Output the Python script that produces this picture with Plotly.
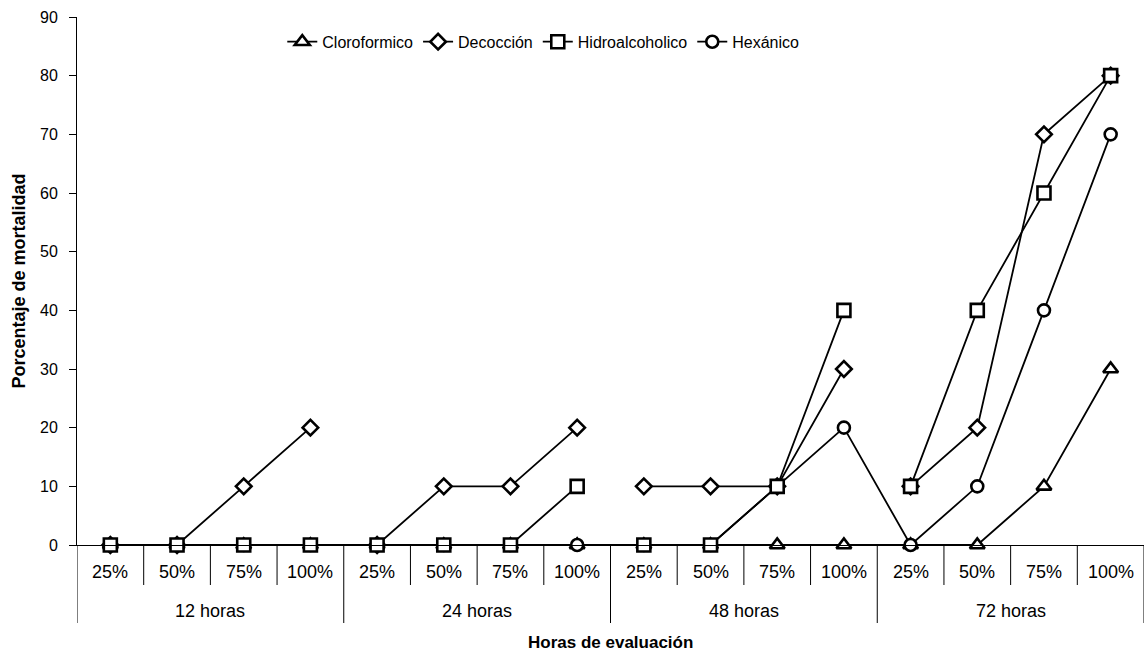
import plotly.graph_objects as go

# Categories
groups = ["12 horas", "24 horas", "48 horas", "72 horas"]
doses = ["25%", "50%", "75%", "100%"]

# Mortality (%) per extract, ordered group by group, dose by dose
cloroformico = [0, 0, 0, 0, 0, 0, 0, 0, 0, 0, 0, 0, 0, 0, 10, 30]
decoccion = [0, 0, 10, 20, 0, 10, 10, 20, 10, 10, 10, 30, 10, 20, 70, 80]
hidroalcoholico = [0, 0, 0, 0, 0, 0, 0, 10, 0, 0, 10, 40, 10, 40, 60, 80]
hexanico = [0, 0, 0, 0, 0, 0, 0, 0, 0, 0, 10, 20, 0, 10, 40, 70]

FONT = "Liberation Sans, Arial, sans-serif"
n_d = len(doses)
n = len(groups) * n_d
xs = list(range(n))

# (name, values, symbol, size, legend rank, joined across groups)
series = [
    ("Cloroformico", cloroformico, "triangle-up", 13, 1, True),
    ("Decocción", decoccion, "diamond", 12, 2, False),
    ("Hexánico", hexanico, "circle", 12, 4, True),
    ("Hidroalcoholico", hidroalcoholico, "square", 13, 3, False),
]

fig = go.Figure()
for name, vals, sym, size, rank, joined in series:
    if joined:
        spans = [(0, n)]
    else:
        spans = [(g * n_d, (g + 1) * n_d) for g in range(len(groups))]
    for k, (a, b) in enumerate(spans):
        fig.add_trace(go.Scatter(
            x=xs[a:b], y=vals[a:b], name=name, legendgroup=name,
            showlegend=(k == 0), legendrank=rank,
            mode="lines+markers", cliponaxis=False,
            line=dict(color="black", width=1.8),
            marker=dict(symbol=sym, size=size, color="white",
                        line=dict(color="black", width=2.6)),
        ))

# Category table below the x axis, positioned in pixels under the plot area
H_PLOT = 528.0
def py(px_below):
    return -px_below / H_PLOT

annotations = []
shapes = []
for i, d in enumerate(doses * len(groups)):
    annotations.append(dict(x=i, y=py(27), xref="x", yref="paper", yanchor="middle",
                            text=d, showarrow=False,
                            font=dict(size=18, family=FONT, color="black")))
for g, name in enumerate(groups):
    annotations.append(dict(x=g * n_d + (n_d - 1) / 2, y=py(66), xref="x", yref="paper",
                            yanchor="middle", text=name, showarrow=False,
                            font=dict(size=18, family=FONT, color="black")))
for i in range(n + 1):
    depth = 78 if i % n_d == 0 else 40
    shapes.append(dict(type="line", xref="x", yref="paper", x0=i - 0.5, x1=i - 0.5,
                       y0=0, y1=py(depth), line=dict(color="black", width=1)))

annotations.append(dict(x=0.5, y=py(97), xref="paper", yref="paper", yanchor="middle",
                        text="<b>Horas de evaluación</b>", showarrow=False,
                        font=dict(size=17, family=FONT, color="black")))

fig.update_layout(
    width=1148, height=659,
    margin=dict(l=77, r=4, t=17, b=114),
    paper_bgcolor="white", plot_bgcolor="white",
    font=dict(family=FONT, size=16, color="black"),
    showlegend=True,
    legend=dict(orientation="h", x=0.437, xanchor="center", y=0.953, yanchor="middle",
                font=dict(size=16, family=FONT), itemwidth=30,
                bgcolor="rgba(0,0,0,0)", traceorder="normal"),
    xaxis=dict(range=[-0.5, n - 0.5], showticklabels=False, ticks="",
               showgrid=False, zeroline=False, showline=True,
               linecolor="black", linewidth=1),
    yaxis=dict(range=[0, 90], dtick=10, tick0=0, ticks="outside", ticklen=7,
               tickcolor="black", showgrid=False, zeroline=False, showline=True,
               linecolor="black", linewidth=1, ticklabelstandoff=8,
               tickfont=dict(size=16, family=FONT),
               title=dict(text="<b>Porcentaje de mortalidad</b>", standoff=9,
                          font=dict(size=18, family=FONT))),
    annotations=annotations,
    shapes=shapes,
)

fig.write_html("out.html")
